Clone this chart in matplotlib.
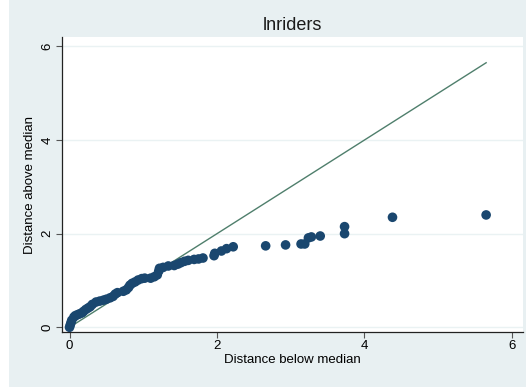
import matplotlib.pyplot as plt
from matplotlib.patches import Rectangle

below = [0.00, 0.01, 0.02, 0.03, 0.06, 0.08, 0.11, 0.14, 0.17, 0.19,
         0.22, 0.25, 0.28, 0.31, 0.36, 0.41, 0.46, 0.50, 0.55, 0.59,
         0.62, 0.65, 0.73, 0.77, 0.80, 0.82, 0.85, 0.89, 0.93, 0.98,
         1.02, 1.10, 1.15, 1.19, 1.21, 1.22, 1.27, 1.34, 1.42, 1.47,
         1.51, 1.56, 1.61, 1.69, 1.75, 1.81, 1.96, 1.97, 2.06, 2.13,
         2.22, 2.66, 2.93, 3.14, 3.19, 3.24, 3.28, 3.40, 3.73, 3.73,
         4.38, 5.65]
above = [0.00, 0.05, 0.10, 0.15, 0.22, 0.25, 0.27, 0.29, 0.31, 0.34,
         0.38, 0.41, 0.44, 0.49, 0.54, 0.56, 0.58, 0.60, 0.63, 0.66,
         0.71, 0.74, 0.77, 0.80, 0.85, 0.90, 0.94, 0.97, 1.01, 1.04,
         1.05, 1.05, 1.08, 1.12, 1.20, 1.26, 1.28, 1.31, 1.32, 1.35,
         1.38, 1.41, 1.43, 1.45, 1.46, 1.48, 1.53, 1.58, 1.63, 1.68,
         1.72, 1.74, 1.76, 1.78, 1.78, 1.91, 1.93, 1.95, 2.00, 2.15,
         2.35, 2.40]
ticks = [0, 2, 4, 6]

plt.rcParams['font.family'] = ['Liberation Sans', 'DejaVu Sans']

bg = '#e8f0f2'
fig = plt.figure(figsize=(5.29, 3.87), dpi=100, facecolor='white')
fig.patches.append(Rectangle((9 / 529, 0), 517 / 529, 1, transform=fig.transFigure,
                             facecolor=bg, edgecolor='none', zorder=-10))
ax = fig.add_axes([61.7 / 529, 1 - 332 / 387, (523 - 61.7) / 529, (332 - 37) / 387])
ax.set_facecolor('white')

ax.set_xlim(-0.106, 6.15)
ax.set_ylim(-0.1, 6.2)
for t in ticks:
    ax.axhline(t, color='#eaf2f3', lw=1.0, zorder=0)

lim = max(below)
ax.plot([0, lim], [0, lim], color='#4f7f6c', lw=1.0, zorder=2)
ax.scatter(below, above, s=48, color='#1a476f', edgecolors='none', zorder=3)

ax.set_xticks(ticks)
ax.set_yticks(ticks)
ax.tick_params(length=4, width=0.8, color='#555555', labelsize=9.5, pad=2)
for lab in ax.get_yticklabels():
    lab.set_rotation(90)
    lab.set_va('center')
for side in ['top', 'right']:
    ax.spines[side].set_visible(False)
for side in ['left', 'bottom']:
    ax.spines[side].set_color('#222222')
    ax.spines[side].set_linewidth(0.9)

ax.set_xlabel('Distance below median', fontsize=9.5, labelpad=1)
ax.set_ylabel('Distance above median', fontsize=9.5, labelpad=4)
ax.set_title('lnriders', fontsize=13, color='#1a1a1a', pad=5)

plt.savefig('out.png', dpi=100, facecolor=fig.get_facecolor())
